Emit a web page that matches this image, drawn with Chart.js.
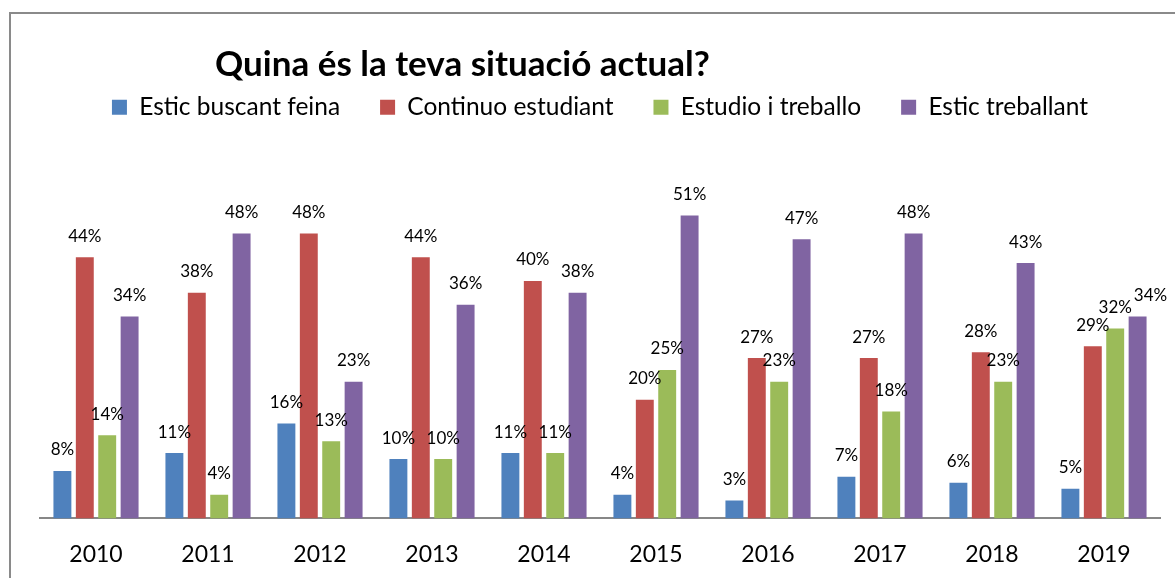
<!DOCTYPE html>
<html>
<head>
<meta charset="utf-8">
<script src="https://cdn.jsdelivr.net/npm/chart.js@4.4.1/dist/chart.umd.min.js"></script>
<style>
  html, body { margin: 0; padding: 0; background: #fff; }
  #wrap { position: relative; width: 1175px; height: 578px; overflow: hidden; }
  #frame {
    position: absolute; left: 9px; top: 12px; width: 1300px; height: 700px;
    border-left: 2px solid #8a8a8a; border-top: 2px solid #8a8a8a;
  }
  canvas { position: absolute; left: 0; top: 0; }
</style>
</head>
<body>
<div id="wrap">
  <div id="frame"></div>
  <canvas id="chart" width="1175" height="590"></canvas>
</div>
<script>
const TITLE = "Quina és la teva situació actual?";
const years = ["2010", "2011", "2012", "2013", "2014", "2015", "2016", "2017", "2018", "2019"];
const seriesNames = ["Estic buscant feina", "Continuo estudiant", "Estudio i treballo", "Estic treballant"];

// percentages, as printed on the bars
const buscantFeina = [8, 11, 16, 10, 11, 4, 3, 7, 6, 5];
const continuoEstudiant = [44, 38, 48, 44, 40, 20, 27, 27, 28, 29];
const estudioTreballo = [14, 4, 13, 10, 11, 25, 23, 18, 23, 32];
const esticTreballant = [34, 48, 23, 36, 38, 51, 47, 48, 43, 34];

const colors = ["#4F81BD", "#C0504D", "#9BBB59", "#8064A2"];
const FONT = "Lato, 'Open Sans', sans-serif";

const titlePlugin = {
  id: "leftTitle",
  afterDraw(chart) {
    const ctx = chart.ctx;
    ctx.save();
    ctx.font = `bold 35px ${FONT}`;
    ctx.fillStyle = "#000";
    ctx.textAlign = "left";
    ctx.textBaseline = "alphabetic";
    ctx.fillText(TITLE, 215, 76);
    ctx.restore();
  },
};

// value labels above each bar, nudged when two labels of a group collide
const valueLabels = {
  id: "valueLabels",
  afterDatasetsDraw(chart) {
    const ctx = chart.ctx;
    ctx.save();
    ctx.font = `17px ${FONT}`;
    ctx.fillStyle = "#000";
    ctx.textAlign = "center";
    ctx.textBaseline = "middle";
    const h = 16;
    years.forEach((_, i) => {
      const placed = [];
      chart.data.datasets.forEach((ds, d) => {
        const bar = chart.getDatasetMeta(d).data[i];
        const text = `${ds.data[i]}%`;
        const w = ctx.measureText(text).width;
        let cx = bar.x;
        let cy = bar.y - 21;
        placed.forEach((p) => {
          const ox = Math.min(cx + w / 2, p.x2) - Math.max(cx - w / 2, p.x1);
          const oy = Math.min(cy + h / 2, p.y2) - Math.max(cy - h / 2, p.y1);
          if (ox > 0 && oy > 0) {
            if (oy < 7 && p.y1 > cy - h / 2 && placed.length < 3) cy -= oy + 1;
            else cx = p.x2 + 2 + w / 2;
          }
        });
        placed.push({ x1: cx - w / 2, x2: cx + w / 2, y1: cy - h / 2, y2: cy + h / 2 });
        ctx.fillText(text, cx, cy);
      });
    });
    ctx.restore();
  },
};

new Chart(document.getElementById("chart"), {
  type: "bar",
  data: {
    labels: years,
    datasets: [buscantFeina, continuoEstudiant, estudioTreballo, esticTreballant].map((vals, k) => ({
      label: seriesNames[k],
      data: vals,
      backgroundColor: colors[k],
      borderWidth: 0,
      categoryPercentage: 0.8,
      barPercentage: 0.8,
    })),
  },
  options: {
    responsive: false,
    animation: false,
    devicePixelRatio: 1,
    layout: { padding: { left: 40, right: 15, top: 55, bottom: 0 } },
    plugins: {
      title: { display: false },
      tooltip: { enabled: false },
      legend: {
        position: "top",
        labels: {
          font: { family: FONT, size: 24.5 },
          color: "#000",
          boxWidth: 15,
          boxHeight: 15,
          padding: 40,
        },
      },
    },
    scales: {
      x: {
        grid: { display: false, drawTicks: false },
        border: { display: true, color: "#878787", width: 2 },
        ticks: { font: { family: FONT, size: 23 }, color: "#000", padding: 22 },
      },
      y: {
        display: false,
        min: 0,
        max: 65.5,
      },
    },
  },
  plugins: [titlePlugin, valueLabels],
});
</script>
</body>
</html>
